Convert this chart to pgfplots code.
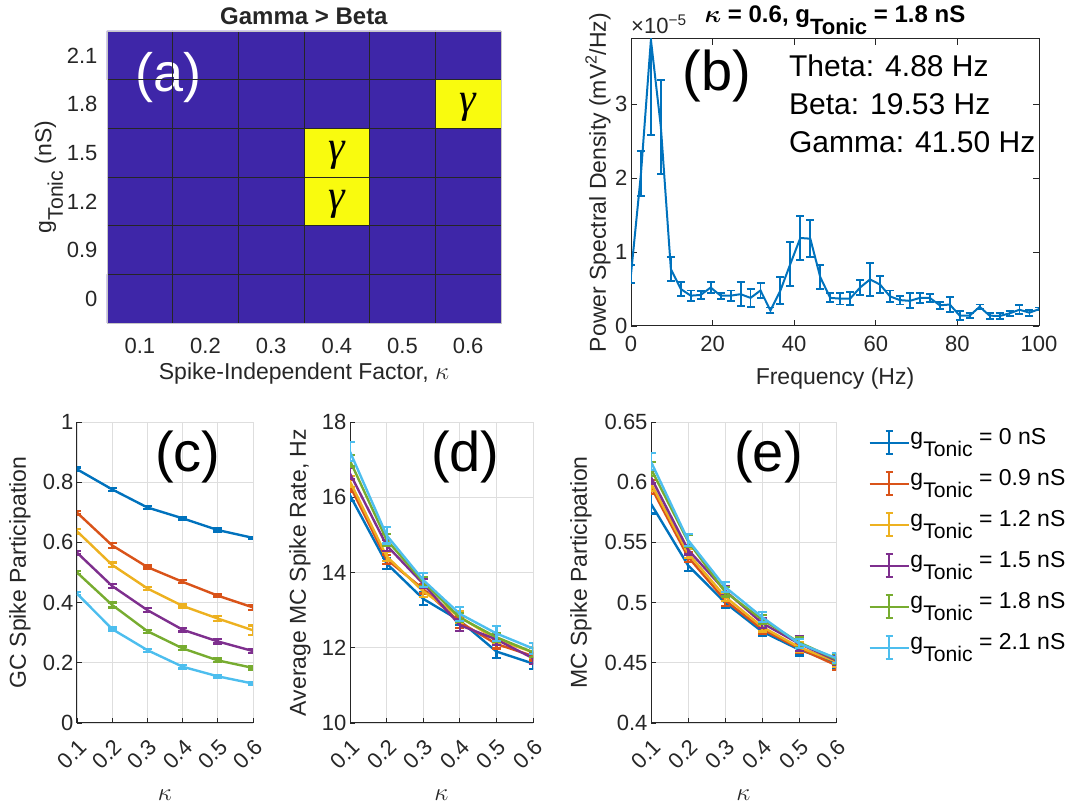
\documentclass[border=0pt]{standalone}
\usepackage{fontspec}
\setmainfont{Liberation Sans}
\newfontfamily\serifgreek{Liberation Serif}
\usepackage{amsmath}
\usepackage{graphicx}
\usepackage{pgfplots}
\usepackage{pgfplotstable}
\pgfplotsset{compat=1.18}

\definecolor{c1}{RGB}{0,114,189}
\definecolor{c2}{RGB}{217,83,25}
\definecolor{c3}{RGB}{237,177,32}
\definecolor{c4}{RGB}{126,47,142}
\definecolor{c5}{RGB}{119,172,48}
\definecolor{c6}{RGB}{77,190,238}
\definecolor{axc}{RGB}{38,38,38}

\newcommand{\Tonic}{\raisebox{-0.5em}{\scalebox{0.92}{Tonic}}}
\newcommand{\fs}[1]{\fontsize{#1}{#1}\selectfont}

% panel (b) spectrum: x = frequency (Hz), y = PSD (x 1e-5), e = error
\pgfplotstableread{
x y e
0.00 0.70 0.12
2.44 2.06 0.30
4.88 3.87 1.29
7.32 2.69 0.64
9.77 0.77 0.16
12.21 0.50 0.10
14.65 0.41 0.07
17.09 0.42 0.05
19.53 0.52 0.08
21.97 0.41 0.04
24.41 0.41 0.07
26.86 0.43 0.16
29.30 0.38 0.12
31.74 0.48 0.10
34.18 0.21 0.04
36.62 0.48 0.18
39.06 0.84 0.30
41.50 1.19 0.30
43.95 1.18 0.25
46.39 0.66 0.16
48.83 0.38 0.06
51.27 0.37 0.08
53.71 0.37 0.09
56.15 0.52 0.10
58.59 0.63 0.22
61.04 0.56 0.12
63.48 0.40 0.08
65.92 0.35 0.06
68.36 0.34 0.10
70.80 0.38 0.07
73.24 0.38 0.05
75.68 0.28 0.05
78.13 0.29 0.10
80.57 0.14 0.06
83.01 0.14 0.03
85.45 0.26 0.03
87.89 0.14 0.04
90.33 0.135 0.04
92.77 0.17 0.03
95.21 0.22 0.06
97.66 0.18 0.04
100.10 0.23 0.02
}\tabb

\pgfplotstableread{
k y1 e1 y2 e2 y3 e3 y4 e4 y5 e5 y6 e6
0.1 0.843 0.006 0.699 0.006 0.637 0.008 0.566 0.006 0.500 0.006 0.430 0.006
0.2 0.776 0.005 0.590 0.009 0.525 0.008 0.455 0.006 0.392 0.008 0.312 0.005
0.3 0.716 0.006 0.518 0.005 0.447 0.006 0.375 0.007 0.305 0.005 0.242 0.005
0.4 0.680 0.004 0.469 0.005 0.389 0.005 0.310 0.006 0.248 0.006 0.187 0.006
0.5 0.641 0.005 0.423 0.004 0.347 0.008 0.271 0.007 0.208 0.006 0.155 0.004
0.6 0.615 0.004 0.384 0.008 0.308 0.016 0.239 0.007 0.183 0.005 0.131 0.005
}\tabc

\pgfplotstableread{
k y1 e1 y2 e2 y3 e3 y4 e4 y5 e5 y6 e6
0.1 16.05 0.15 16.30 0.15 16.42 0.15 16.63 0.15 16.97 0.15 17.21 0.25
0.2 14.24 0.15 14.35 0.12 14.43 0.12 14.72 0.15 14.87 0.15 14.99 0.22
0.3 13.30 0.17 13.56 0.12 13.50 0.15 13.70 0.12 13.75 0.12 13.80 0.18
0.4 12.72 0.12 12.68 0.15 12.82 0.15 12.60 0.15 12.80 0.12 12.90 0.18
0.5 11.90 0.17 12.10 0.12 12.22 0.12 12.22 0.15 12.28 0.12 12.38 0.20
0.6 11.58 0.15 11.78 0.12 11.88 0.15 11.72 0.15 11.88 0.12 11.98 0.15
}\tabd

\pgfplotstableread{
k y1 e1 y2 e2 y3 e3 y4 e4 y5 e5 y6 e6
0.1 0.582 0.008 0.596 0.006 0.599 0.006 0.604 0.005 0.611 0.006 0.617 0.007
0.2 0.531 0.005 0.538 0.004 0.541 0.004 0.544 0.004 0.551 0.005 0.552 0.005
0.3 0.500 0.004 0.502 0.005 0.505 0.004 0.510 0.004 0.509 0.004 0.513 0.004
0.4 0.476 0.004 0.478 0.004 0.480 0.004 0.483 0.004 0.486 0.004 0.488 0.004
0.5 0.461 0.005 0.462 0.004 0.463 0.004 0.466 0.006 0.467 0.004 0.466 0.004
0.6 0.450 0.004 0.448 0.004 0.451 0.004 0.452 0.004 0.453 0.004 0.454 0.004
}\tabe

\pgfplotsset{
  base/.style={
    scale only axis, anchor=south west, clip mode=individual,
    axis line style={axc, line width=1pt},
    tick style={axc, line width=0.8pt},
    every tick label/.append style={font=\fs{22}, text=axc},
    label style={font=\fs{23}, text=axc},
    /pgf/number format/assume math mode=true,
  },
  low/.style={
    base, height=301pt,
    xmin=0.1, xmax=0.6,
    xtick={0.1,0.2,0.3,0.4,0.5,0.6},
    xticklabels={0.1,0.2,0.3,0.4,0.5,0.6},
    xticklabel style={xshift=-5pt, yshift=-31pt, rotate=45, anchor=center},
    xlabel style={at={(axis description cs:0.5,0)}, anchor=center, yshift=-72pt},
    grid=major, grid style={black!13, line width=0.9pt},
    axis x line*=bottom, axis y line*=left,
    tick align=inside, major tick length=5pt,
    xlabel={$\kappa$},
    every axis plot/.append style={line width=2.4pt, mark=none},
    error bars/y dir=both, error bars/y explicit,
    error bars/error bar style={line width=2.2pt},
    error bars/error mark options={rotate=90, line width=2.2pt, mark size=4.5pt},
  },
}

\begin{document}
\begin{tikzpicture}[x=1pt,y=1pt]
\path[use as bounding box] (0,0) rectangle (1072,806);

% ---------------- (a)
\begin{axis}[base,
  at={(107pt,483pt)}, width=394pt, height=292pt,
  xmin=-0.5, xmax=5.5, ymin=-0.5, ymax=5.5,
  xtick={0,...,5}, xticklabels={0.1,0.2,0.3,0.4,0.5,0.6},
  ytick={0,...,5}, yticklabels={0,0.9,1.2,1.5,1.8,2.1},
  minor xtick={0.5,1.5,2.5,3.5,4.5}, minor ytick={0.5,1.5,2.5,3.5,4.5},
  xminorgrids, yminorgrids, minor grid style={black!85, line width=0.6pt},
  major tick length=0pt, minor tick length=0pt,
  xticklabel style={anchor=center, yshift=-23pt},
  yticklabel style={anchor=east, xshift=-6pt},
  axis on top, axis line style={gray!45, line width=0.8pt},
  colormap={hm}{rgb255=(62,38,168) rgb255=(249,251,14)},
  point meta min=0, point meta max=1,
  title={\textbf{Gamma > Beta}},
  title style={font=\fs{24}, text=axc, at={(axis description cs:0.5,1)}, anchor=base, yshift=0pt},
  xlabel={Spike-Independent Factor, $\kappa$},
  xlabel style={at={(axis description cs:0.5,0)}, anchor=center, yshift=-51pt},
  ylabel={g\Tonic{} (nS)},
  ylabel style={at={(axis description cs:0,0.5)}, anchor=center, yshift=58pt},
]
\addplot[matrix plot*, mesh/cols=6, point meta=explicit] table[meta=c]{
x y c
0 0 0
1 0 0
2 0 0
3 0 0
4 0 0
5 0 0
0 1 0
1 1 0
2 1 0
3 1 0
4 1 0
5 1 0
0 2 0
1 2 0
2 2 0
3 2 1
4 2 0
5 2 0
0 3 0
1 3 0
2 3 0
3 3 1
4 3 0
5 3 0
0 4 0
1 4 0
2 4 0
3 4 0
4 4 0
5 4 1
0 5 0
1 5 0
2 5 0
3 5 0
4 5 0
5 5 0
};
\node[font=\serifgreek\itshape\fs{42}, yshift=-3pt] at (axis cs:3,2) {γ};
\node[font=\serifgreek\itshape\fs{42}, yshift=-3pt] at (axis cs:3,3) {γ};
\node[font=\serifgreek\itshape\fs{42}, yshift=-3pt] at (axis cs:5,4) {γ};
\node[font=\fs{54}, text=white] at (rel axis cs:0.155,0.84) {(a)};
\end{axis}

% ---------------- (b)
\begin{axis}[base,
  at={(631pt,480pt)}, width=408pt, height=287pt,
  xmin=0, xmax=100, ymin=0, ymax=3.88,
  xtick={0,20,...,100}, ytick={0,1,2,3},
  tick align=inside, major tick length=6pt,
  xticklabel style={yshift=-7pt},
  title={\textbf{$\boldsymbol{\kappa}$ = 0.6, g\Tonic{} = 1.8 nS}},
  title style={font=\fs{24}, text=black, at={(axis description cs:0.5,1)}, anchor=base, yshift=10pt},
  xlabel={Frequency (Hz)},
  xlabel style={at={(axis description cs:0.5,0)}, anchor=center, yshift=-53pt},
  ylabel={Power Spectral Density (mV\textsuperscript{2}/Hz)},
  ylabel style={at={(axis description cs:0,0.5)}, anchor=center, yshift=33pt},
  error bars/y dir=both, error bars/y explicit,
  error bars/error bar style={line width=1.9pt},
  error bars/error mark options={rotate=90, line width=1.9pt, mark size=4pt},
]
\addplot[c1, line width=2pt, mark=none] table[x=x, y=y, y error=e]{\tabb};
\node[anchor=base west, inner sep=0pt, font=\fs{22}, text=axc] at (rel axis cs:0,1.02) {×10\textsuperscript{−5}};
\node[font=\fs{56}] at (rel axis cs:0.21,0.87) {(b)};
\node[anchor=north west, align=left, inner sep=0pt, font=\fontsize{30}{38}\selectfont] at (rel axis cs:0.387,0.945) {Theta: 4.88 Hz\\Beta: 19.53 Hz\\Gamma: 41.50 Hz};
\end{axis}

% ---------------- (c)
\begin{axis}[low,
  at={(77pt,83pt)}, width=176pt,
  ymin=0, ymax=1, ytick={0,0.2,0.4,0.6,0.8,1},
  yticklabels={0,0.2,0.4,0.6,0.8,1},
  ylabel={GC Spike Participation},
  ylabel style={at={(axis description cs:0,0.5)}, anchor=center, yshift=57pt},
]
\addplot[c1] table[x=k, y=y1, y error=e1]{\tabc};
\addplot[c2] table[x=k, y=y2, y error=e2]{\tabc};
\addplot[c3] table[x=k, y=y3, y error=e3]{\tabc};
\addplot[c4] table[x=k, y=y4, y error=e4]{\tabc};
\addplot[c5] table[x=k, y=y5, y error=e5]{\tabc};
\addplot[c6] table[x=k, y=y6, y error=e6]{\tabc};
\node[font=\fs{56}] at (rel axis cs:0.63,0.885) {(c)};
\end{axis}

% ---------------- (d)
\begin{axis}[low,
  at={(350pt,83pt)}, width=183pt,
  ymin=10, ymax=18, ytick={10,12,14,16,18},
  ylabel={Average MC Spike Rate, Hz},
  ylabel style={at={(axis description cs:0,0.5)}, anchor=center, yshift=50pt},
]
\addplot[c1] table[x=k, y=y1, y error=e1]{\tabd};
\addplot[c2] table[x=k, y=y2, y error=e2]{\tabd};
\addplot[c3] table[x=k, y=y3, y error=e3]{\tabd};
\addplot[c4] table[x=k, y=y4, y error=e4]{\tabd};
\addplot[c5] table[x=k, y=y5, y error=e5]{\tabd};
\addplot[c6] table[x=k, y=y6, y error=e6]{\tabd};
\node[font=\fs{56}] at (rel axis cs:0.63,0.885) {(d)};
\end{axis}

% ---------------- (e)
\begin{axis}[low,
  at={(651pt,83pt)}, width=185pt,
  ymin=0.4, ymax=0.65, ytick={0.4,0.45,0.5,0.55,0.6,0.65},
  yticklabels={0.4,0.45,0.5,0.55,0.6,0.65},
  ylabel={MC Spike Participation},
  ylabel style={at={(axis description cs:0,0.5)}, anchor=center, yshift=70pt},
  legend style={at={(1.175,0.982)}, anchor=north west, draw=none, fill=none,
    font=\fs{23}, row sep=11pt, inner sep=0pt,
    nodes={inner sep=1pt, text height=16pt, text depth=12pt, anchor=west}},
  legend cell align=left,
  legend image code/.code={
    \draw[#1, line width=1.9pt] (0pt,0pt) -- (39pt,0pt);
    \draw[#1, line width=1.9pt] (19.5pt,-11.5pt) -- (19.5pt,11.5pt);
    \draw[#1, line width=1.9pt] (16pt,-11.5pt) -- (23pt,-11.5pt);
    \draw[#1, line width=1.9pt] (16pt,11.5pt) -- (23pt,11.5pt);
  },
]
\addplot[c1] table[x=k, y=y1, y error=e1]{\tabe};
\addlegendentry{g\Tonic{} = 0 nS}
\addplot[c2] table[x=k, y=y2, y error=e2]{\tabe};
\addlegendentry{g\Tonic{} = 0.9 nS}
\addplot[c3] table[x=k, y=y3, y error=e3]{\tabe};
\addlegendentry{g\Tonic{} = 1.2 nS}
\addplot[c4] table[x=k, y=y4, y error=e4]{\tabe};
\addlegendentry{g\Tonic{} = 1.5 nS}
\addplot[c5] table[x=k, y=y5, y error=e5]{\tabe};
\addlegendentry{g\Tonic{} = 1.8 nS}
\addplot[c6] table[x=k, y=y6, y error=e6]{\tabe};
\addlegendentry{g\Tonic{} = 2.1 nS}
\node[font=\fs{56}] at (rel axis cs:0.635,0.885) {(e)};
\end{axis}
\end{tikzpicture}
\end{document}
